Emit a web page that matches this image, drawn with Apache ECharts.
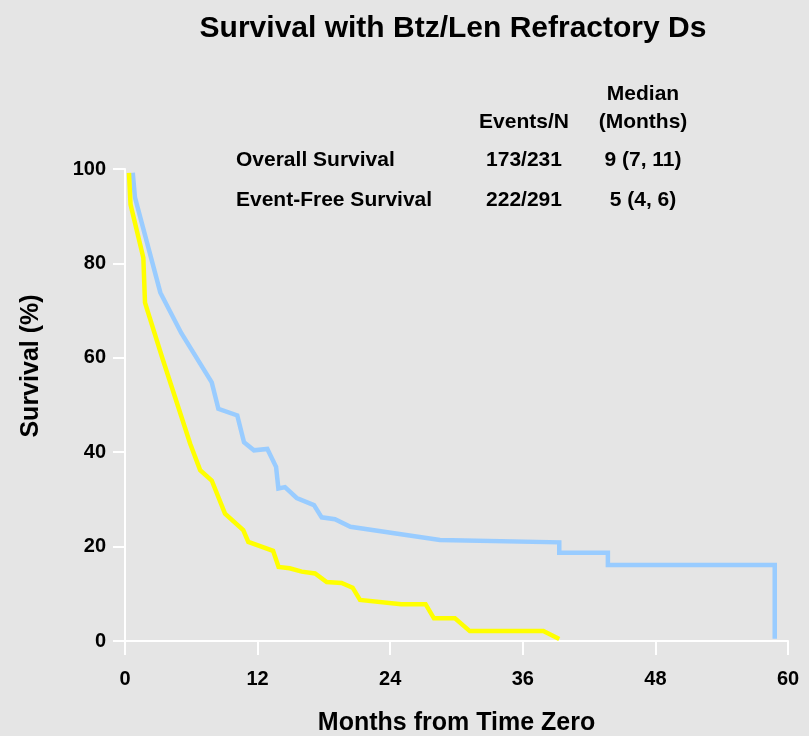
<!DOCTYPE html>
<html>
<head>
<meta charset="utf-8">
<title>Survival with Btz/Len Refractory Ds</title>
<script src="https://cdn.jsdelivr.net/npm/echarts@6/dist/echarts.min.js"></script>
<style>
  html, body { margin: 0; padding: 0; background: #e5e5e5; }
  #main { width: 809px; height: 736px; }
</style>
</head>
<body>
<div id="main"></div>
<script>
// overall survival (blue), months / percent
var osMonths = [0.7, 0.9, 3.2, 5.1, 7.85, 8.45, 10.16, 10.77, 11.67, 12.88, 13.67, 13.88, 14.48, 15.54, 17.1, 17.8, 19.0, 20.4, 28.5, 39.3, 39.3, 43.7, 43.7, 58.8, 58.8];
var osPct = [99.2, 94, 73.8, 65.2, 54.8, 49.2, 47.8, 42.1, 40.4, 40.7, 36.9, 32.3, 32.6, 30.3, 28.8, 26.2, 25.8, 24.2, 21.4, 20.9, 18.7, 18.7, 16.1, 16.1, 0.5];

// event-free survival (yellow)
var efsMonths = [0.36, 0.5, 1.66, 1.81, 3.4, 5.9, 6.8, 7.85, 9.05, 10.7, 11.16, 13.4, 13.9, 14.9, 16.0, 17.2, 18.25, 19.6, 20.6, 21.27, 25.0, 27.2, 27.96, 29.86, 31.2, 37.86, 39.3];
var efsPct = [99.2, 92.5, 81.2, 71.7, 59.8, 41.8, 36.2, 34.0, 27.0, 23.5, 21.0, 19.1, 15.7, 15.4, 14.7, 14.3, 12.5, 12.3, 11.3, 8.7, 7.8, 7.8, 4.8, 4.8, 2.1, 2.1, 0.4];

var xTicks = [0, 12, 24, 36, 48, 60];
var yTicks = [0, 20, 40, 60, 80, 100];

var tableHead = ['Events/N', 'Median', '(Months)'];
var rowNames = ['Overall Survival', 'Event-Free Survival'];
var rowEvents = ['173/231', '222/291'];
var rowMedian = ['9 (7, 11)', '5 (4, 6)'];

function pairs(xs, ys) {
  var out = [];
  for (var i = 0; i < xs.length; i++) {
    out.push([xs[i], ys[i]]);
  }
  return out;
}

var font = '"Liberation Sans", Arial, sans-serif';

function txt(x, y, s, size, align) {
  return {
    type: 'text',
    x: x,
    y: y,
    style: {
      text: s,
      fill: '#000',
      font: 'bold ' + size + 'px ' + font,
      textAlign: align || 'center',
      textVerticalAlign: 'middle'
    }
  };
}

var graphics = [
  txt(453, 29, 'Survival with Btz/Len Refractory Ds', 30),
  txt(524, 122, tableHead[0], 21),
  txt(643, 94, tableHead[1], 21),
  txt(643, 122, tableHead[2], 21)
];
var rowY = [160, 200];
for (var r = 0; r < rowNames.length; r++) {
  graphics.push(txt(236, rowY[r], rowNames[r], 21, 'left'));
  graphics.push(txt(524, rowY[r], rowEvents[r], 21));
  graphics.push(txt(643, rowY[r], rowMedian[r], 21));
}
// y axis title sits a little above the axis centre
var yName = txt(0, 0, 'Survival (%)', 25);
yName.x = 31;
yName.y = 366;
yName.rotation = Math.PI / 2;
graphics.push(yName);

var myChart = echarts.init(document.getElementById('main'));
myChart.setOption({
  backgroundColor: '#e5e5e5',
  animation: false,
  textStyle: { fontFamily: font },
  grid: { left: 125, right: 21, top: 169, bottom: 95, outerBoundsMode: 'none' },
  xAxis: {
    type: 'value',
    min: xTicks[0],
    max: xTicks[xTicks.length - 1],
    interval: 12,
    name: 'Months from Time Zero',
    nameLocation: 'middle',
    nameGap: 70,
    nameTextStyle: { color: '#000', fontWeight: 'bold', fontSize: 25 },
    axisLine: { lineStyle: { color: '#fff', width: 2 } },
    axisTick: { length: 14, lineStyle: { color: '#fff', width: 2 } },
    axisLabel: { color: '#000', fontWeight: 'bold', fontSize: 20, margin: 28 },
    splitLine: { show: false }
  },
  yAxis: {
    type: 'value',
    min: yTicks[0],
    max: yTicks[yTicks.length - 1],
    interval: 20,
    axisLine: { show: true, lineStyle: { color: '#fff', width: 2 } },
    axisTick: { show: true, length: 12, lineStyle: { color: '#fff', width: 2 } },
    axisLabel: { color: '#000', fontWeight: 'bold', fontSize: 20, margin: 19 },
    splitLine: { show: false }
  },
  graphic: graphics,
  series: [{
    name: 'Overall Survival',
    type: 'line',
    symbol: 'none',
    data: pairs(osMonths, osPct),
    lineStyle: { color: '#99ccff', width: 4.5, join: 'miter' }
  }, {
    name: 'Event-Free Survival',
    type: 'line',
    symbol: 'none',
    data: pairs(efsMonths, efsPct),
    lineStyle: { color: '#ffff00', width: 4.5, join: 'miter' }
  }]
});
</script>
</body>
</html>
